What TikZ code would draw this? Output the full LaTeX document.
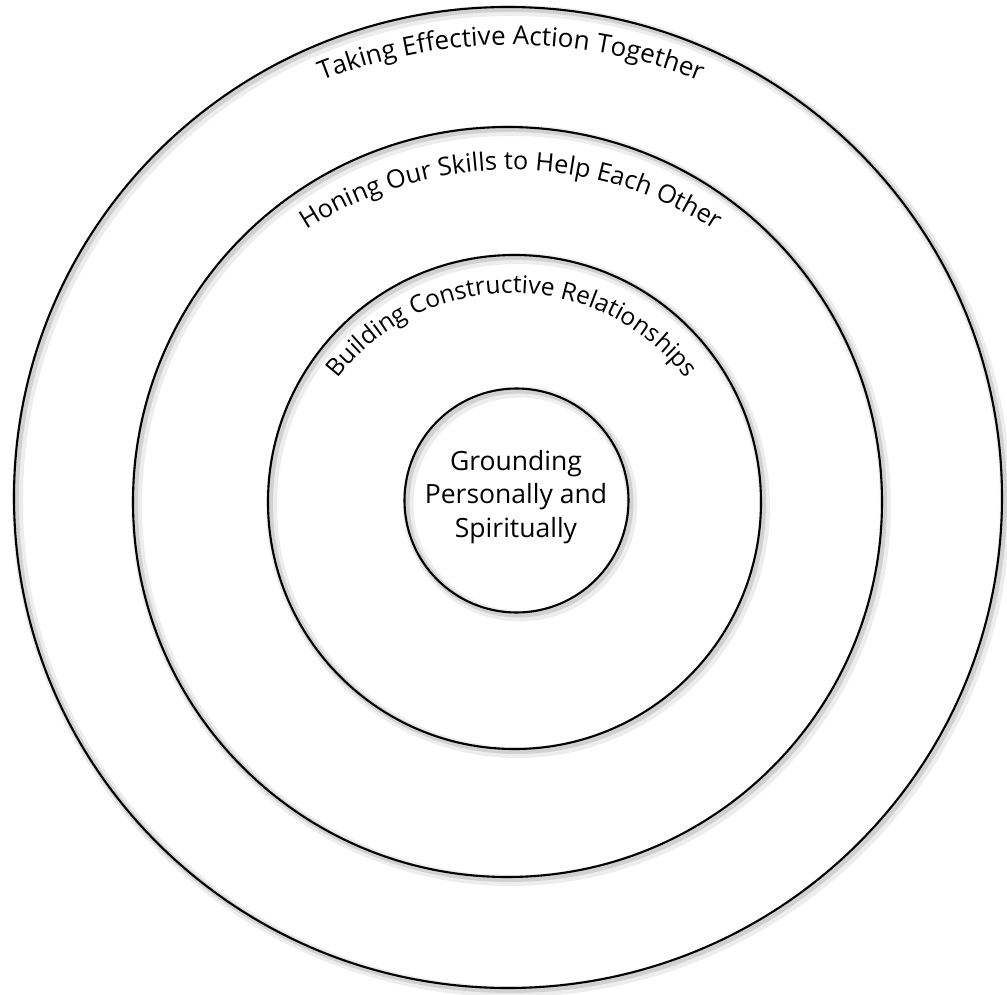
\documentclass[tikz,border=0pt]{standalone}
\usepackage{fontspec}
\setmainfont{Open Sans}
\usetikzlibrary{decorations.text}

\newcommand{\ringfont}[1]{\fontsize{#1}{30}\selectfont}

\begin{document}
\begin{tikzpicture}[
  x=1pt, y=1pt,
  ring/.style={draw=black, line width=2.1pt},
  halo/.style={draw=black!7, line width=11pt},
  umbra/.style={draw=black!18, line width=5.5pt},
  arctext/.style={decorate, decoration={text along path, text align=center,
                  text={#1}}},
  core/.style={align=center, font=\fontsize{26.5}{33.5}\selectfont},
]
\useasboundingbox (0,0) rectangle (1007,-995);

% ---- soft shadows, down and to the right ----
\foreach \cx/\cy/\rx/\ry in {508/497.5/494/490.5, 507.5/502/374.5/375,
                             514.5/502/246.5/247, 516.5/500.5/112/112}{
  \draw[halo]  (\cx+3.5,-\cy-3.5) ellipse [x radius=\rx, y radius=\ry];
  \draw[umbra] (\cx+2.2,-\cy-2.2) ellipse [x radius=\rx, y radius=\ry];
}

% ---- the four rings ----
\foreach \cx/\cy/\rx/\ry in {508/497.5/494/490.5, 507.5/502/374.5/375,
                             514.5/502/246.5/247, 516.5/500.5/112/112}
  \draw[ring] (\cx,-\cy) ellipse [x radius=\rx, y radius=\ry];

% ---- labels along the rings ----
\path[arctext={|\ringfont{26}|Taking Effective Action Together}]
  (511,-560) ++(160:515) arc[start angle=160, end angle=20, radius=515];
\path[arctext={|\ringfont{25.3}|Honing Our Skills to Help Each Other}]
  (511,-548) ++(165:378) arc[start angle=165, end angle=15, radius=378];
\path[arctext={|\ringfont{24.5}|Building Constructive Relationships}]
  (512,-513) ++(175:220) arc[start angle=175, end angle=5, radius=220];

\node[core] (ground) at (516,-497) {Grounding\\Personally and\\Spiritually};

\end{tikzpicture}
\end{document}
